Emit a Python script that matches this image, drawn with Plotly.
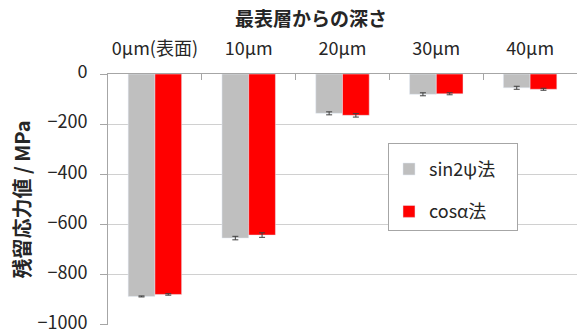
import plotly.graph_objects as go

categories = ["0μm(表面)", "10μm", "20μm", "30μm", "40μm"]
sin2psi = [-888, -655, -157, -81, -55]
sin2psi_err = [2, 7, 6, 6, 6]
cosa = [-880, -643, -165, -79, -61]
cosa_err = [3, 9, 7, 4, 4]
y_ticks = [0, -200, -400, -600, -800, -1000]

FONT = "Noto Sans CJK JP"
PAD = "\u00a0" * 4

fig = go.Figure()
fig.add_trace(go.Bar(
    x=categories, y=sin2psi, name="sin2ψ法" + PAD, marker_color="#BFBFBF",
    error_y=dict(type="data", array=sin2psi_err, color="#404040", thickness=1, width=3),
    legendgroup="a",
))
fig.add_trace(go.Bar(
    x=categories, y=cosa, name="cosα法" + PAD, marker_color="#FF0000",
    error_y=dict(type="data", array=cosa_err, color="#404040", thickness=1, width=3),
    legendgroup="b",
))

fig.update_layout(
    width=577, height=334,
    margin=dict(l=108, r=0, t=74, b=9, autoexpand=False),
    plot_bgcolor="white", paper_bgcolor="white",
    barmode="group", bargap=0.43, bargroupgap=0,
    font=dict(family=FONT, size=18, color="#262626"),
    legend=dict(
        x=0.597, y=0.724, xanchor="left", yanchor="top",
        bordercolor="#A6A6A6", borderwidth=1, bgcolor="white",
        font=dict(size=18, color="#262626"),
        tracegroupgap=16, traceorder="grouped",
        title=dict(text="\u00a0", font=dict(size=5)),
    ),
    xaxis=dict(
        side="top", showline=True, linecolor="#A6A6A6", linewidth=1,
        ticks="inside", tickson="boundaries", ticklen=6, tickcolor="#A6A6A6",
        ticklabelstandoff=11, showgrid=False, tickangle=0, automargin=False,
        tickfont=dict(size=18, color="#262626"),
    ),
    yaxis=dict(
        range=[-1002, 0], tickvals=y_ticks, automargin=False,
        showgrid=True, gridcolor="#D0D0D0", gridwidth=1,
        showline=True, linecolor="#A6A6A6", linewidth=1,
        ticks="outside", ticklen=7, tickcolor="#A6A6A6",
        ticklabelstandoff=9, zeroline=False, ticklabeloverflow="allow",
        ticklabelshift=-2,
        tickfont=dict(size=18, color="#262626"),
        title=dict(text="<b>残留応力値 / MPa</b>", font=dict(size=20, color="#262626"), standoff=1),
    ),
    annotations=[dict(
        text="<b>最表層からの深さ</b>", xref="paper", yref="paper",
        x=0.433, y=1, yshift=57, xanchor="center", yanchor="middle",
        showarrow=False, font=dict(size=19, color="#262626"),
    )],
)

fig.write_html("out.html")
